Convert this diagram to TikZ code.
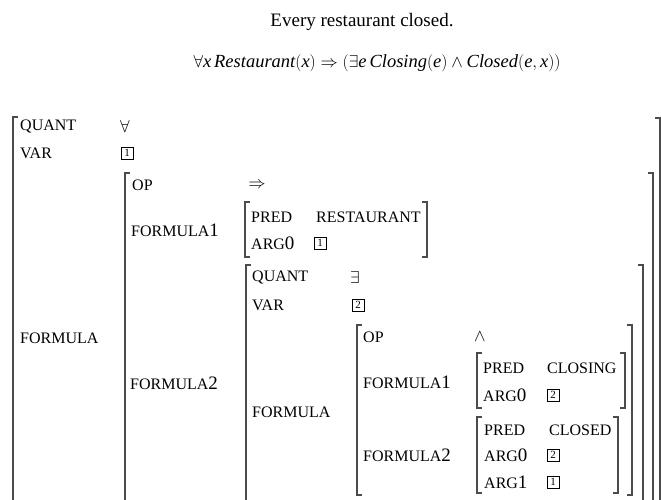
\documentclass[tikz,border=0pt]{standalone}
\usepackage{amssymb}
\usepackage{amsmath}
\usepackage{fontspec}
\setmainfont{Liberation Serif}
\usepackage{tikz}
\usetikzlibrary{positioning}
\newcommand{\dg}[1]{{\fontsize{19}{16}\selectfont #1}} % digits are set larger than the small caps
\newcommand{\openbrak}[3]{\draw[brak] (#1+5,#2) -- (#1,#2) -- (#1,#3) -- (#1+5,#3);}
\newcommand{\closebrak}[3]{\draw[brak] (#1-5,#2) -- (#1,#2) -- (#1,#3) -- (#1-5,#3);}
\newcommand{\openbrakcut}[2]{\draw[brak] (#1+5,#2) -- (#1,#2) -- (#1,500);} % runs off the page
\newcommand{\closebrakcut}[2]{\draw[brak] (#1-5,#2) -- (#1,#2) -- (#1,500);}
\tikzset{
	title/.style={inner sep=0pt, font=\fontsize{19}{22}\selectfont},
	logic/.style={inner sep=0pt, font=\fontsize{18.5}{22}\selectfont},
	feat/.style={anchor=west, inner sep=0pt, font=\fontsize{16}{18}\selectfont}, % attribute names
	val/.style={inner sep=0pt, font=\fontsize{18}{18}\selectfont},
	tag/.style={draw, thin, inner sep=0pt, minimum size=12pt, font=\fontsize{11}{11}\selectfont}, % boxed index
	brak/.style={line width=1.3pt, black!70},
}
\begin{document}
\begin{tikzpicture}[x=1pt,y=-1pt]
      \useasboundingbox (0,0) rectangle (661,500);
      \node[title] (sent) at (362,22) {Every restaurant closed.};
      \node[logic] (fol) at (377,63) {$\forall \mathit{x}\,\mathit{Restaurant}(\mathit{x}) \Rightarrow (\exists \mathit{e}\,\mathit{Closing}(\mathit{e}) \wedge \mathit{Closed}(\mathit{e},\mathit{x}))$};

      % top level
      \openbrakcut{13}{117}
      \closebrakcut{660}{118}
      \node[feat] (quant) at (20,127) {QUANT};
      \node[val] (forall) at (125,127) {$\forall$};
      \node[feat] (var) at (20,153) {VAR};
      \node[tag] (var1) at (127,153) {1};
      \node[feat] (form) at (20,338) {FORMULA};

      % implication
      \openbrakcut{125}{173}
      \closebrakcut{653}{173}
      \node[feat] (op) at (132,185) {OP};
      \node[val] (imp) at (257,185) {$\Rightarrow$};
      \node[feat] (forma) at (131,230) {FORMULA\dg{1}};
      \openbrak{245}{202}{257}
      \closebrak{427}{202}{257}
      \node[feat] (preda) at (251,217) {PRED};
      \node[feat] (resto) at (316,217) {RESTAURANT};
      \node[feat] (arga) at (251,243) {ARG\dg{0}};
      \node[tag] (arga1) at (320,243) {1};
      \node[feat] (formb) at (130,383) {FORMULA\dg{2}};

      % existential
      \openbrakcut{246}{265}
      \closebrakcut{643}{265}
      \node[feat] (quantb) at (252,277) {QUANT};
      \node[val] (exists) at (355,277) {$\exists$};
      \node[feat] (varb) at (252,305) {VAR};
      \node[tag] (varb2) at (358,305) {2};
      \node[feat] (formc) at (252,412) {FORMULA};

      % conjunction
      \openbrak{357}{325}{495}
      \closebrak{632}{325}{495}
      \node[feat] (opb) at (363,337) {OP};
      \node[val] (conj) at (480,337) {$\wedge$};
      \node[feat] (formd) at (363,382) {FORMULA\dg{1}};
      \openbrak{477}{353}{408}
      \closebrak{625}{353}{408}
      \node[feat] (predb) at (483,368) {PRED};
      \node[feat] (closing) at (547,368) {CLOSING};
      \node[feat] (argb) at (483,395) {ARG\dg{0}};
      \node[tag] (argb2) at (553,395) {2};
      \node[feat] (forme) at (363,455) {FORMULA\dg{2}};
      \openbrak{477}{417}{493}
      \closebrak{618}{417}{493}
      \node[feat] (predc) at (484,430) {PRED};
      \node[feat] (closed) at (549,430) {CLOSED};
      \node[feat] (argc) at (484,455) {ARG\dg{0}};
      \node[tag] (argc2) at (553,455) {2};
      \node[feat] (argd) at (484,482) {ARG\dg{1}};
      \node[tag] (argd1) at (553,482) {1};
\end{tikzpicture}
\end{document}
